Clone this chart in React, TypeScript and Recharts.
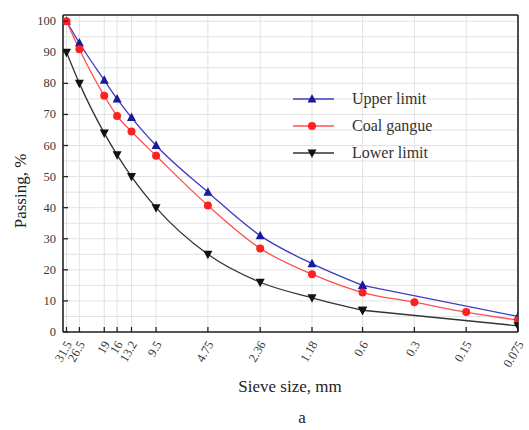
import React from 'react';
import { LineChart, Line, XAxis, YAxis, CartesianGrid, ReferenceLine } from 'recharts';

const sieveSizes = [31.5, 26.5, 19, 16, 13.2, 9.5, 4.75, 2.36, 1.18, 0.6, 0.3, 0.15, 0.075];
const sieveLabels = ['31.5', '26.5', '19', '16', '13.2', '9.5', '4.75', '2.36', '1.18', '0.6', '0.3', '0.15', '0.075'];
const upperLimit: (number | null)[] = [100, 93, 81, 75, 69, 60, 45, 31, 22, 15, null, null, 5];
const coalGangue: (number | null)[] = [100, 91, 76, 69.5, 64.5, 56.7, 40.7, 26.9, 18.6, 12.7, 9.6, 6.4, 3.8];
const lowerLimit: (number | null)[] = [90, 80, 64, 57, 50, 40, 25, 16, 11, 7, null, null, 2];
const yTicks = [0, 10, 20, 30, 40, 50, 60, 70, 80, 90, 100];
const yGrid = [0, 5, 10, 15, 20, 25, 30, 35, 40, 45, 50, 55, 60, 65, 70, 75, 80, 85, 90, 95, 100];

const toSeries = (vals: (number | null)[]) =>
  sieveSizes
    .map((s, i) => ({ size: s, v: vals[i] }))
    .filter((d) => d.v != null);

// split a series into its smooth head (up to 0.6 mm) and the straight tail after it
const headOf = (vals: (number | null)[]) => toSeries(vals).filter((d) => d.size >= 0.6);
const tailOf = (vals: (number | null)[]) => toSeries(vals).filter((d) => d.size <= 0.6);

const FONT = '"Liberation Serif", "DejaVu Serif", serif';

const UpTri = (p: any) => {
  const { cx, cy, fill } = p;
  if (cx == null || cy == null) return <g key={p.index} />;
  return <path key={p.index} d={`M${cx},${cy - 5} L${cx + 4.5},${cy + 3.5} L${cx - 4.5},${cy + 3.5} Z`} fill={fill} />;
};
const DownTri = (p: any) => {
  const { cx, cy, fill } = p;
  if (cx == null || cy == null) return <g key={p.index} />;
  return <path key={p.index} d={`M${cx},${cy + 5} L${cx + 4.5},${cy - 3.5} L${cx - 4.5},${cy - 3.5} Z`} fill={fill} />;
};
const Circ = (p: any) => {
  const { cx, cy, fill } = p;
  if (cx == null || cy == null) return <g key={p.index} />;
  return <circle key={p.index} cx={cx} cy={cy} r={4} fill={fill} />;
};

const series = [
  { key: 'upper', name: 'Upper limit', line: '#3c3cc4', mark: '#1a1a9c', Shape: UpTri, vals: upperLimit, split: true },
  { key: 'coal', name: 'Coal gangue', line: '#ff5050', mark: '#ff2020', Shape: Circ, vals: coalGangue, split: false },
  { key: 'lower', name: 'Lower limit', line: '#333333', mark: '#111111', Shape: DownTri, vals: lowerLimit, split: true },
];

const XTick = (p: any) => {
  const { x, y, payload } = p;
  const idx = sieveSizes.indexOf(payload.value);
  const lab = idx >= 0 ? sieveLabels[idx] : String(payload.value);
  return (
    <g>
      <line x1={x} y1={y} x2={x} y2={y - 5} stroke="#222" strokeWidth={1.3} />
      <text x={x + 6} y={y + 12} transform={`rotate(-60 ${x + 6} ${y + 12})`} textAnchor="end" fontFamily={FONT} fontSize={12.5} fill="#3a3a3a">
        {lab}
      </text>
    </g>
  );
};

const YTick = (p: any) => {
  const { x, y, payload } = p;
  return (
    <g>
      <line x1={x} y1={y} x2={x + 5} y2={y} stroke="#222" strokeWidth={1.3} />
      <text x={x - 7} y={y + 4} textAnchor="end" fontFamily={FONT} fontSize={12.5} fill="#3a3a3a">
        {payload.value}
      </text>
    </g>
  );
};

const LegendBox = () => (
  <svg width={170} height={80} style={{ position: 'absolute', left: 290, top: 86 }}>
    {series.map((s, i) => {
      const cy = 13 + i * 27;
      const S = s.Shape;
      return (
        <g key={s.key}>
          <line x1={3} y1={cy} x2={44} y2={cy} stroke={s.line} strokeWidth={1.3} />
          <S cx={22} cy={cy} fill={s.mark} index={i} />
          <text x={62} y={cy + 5} fontFamily={FONT} fontSize={16} fill="#333">{s.name}</text>
        </g>
      );
    })}
  </svg>
);

export default function App() {
  const lines: React.ReactNode[] = [];
  series.forEach((s) => {
    const parts = s.split
      ? [
          { id: 'head', data: headOf(s.vals), type: 'monotone' as const },
          { id: 'tail', data: tailOf(s.vals), type: 'linear' as const },
        ]
      : [{ id: 'all', data: toSeries(s.vals), type: 'monotone' as const }];
    parts.forEach((part) => {
      lines.push(
        <Line
          key={s.key + part.id}
          data={part.data}
          dataKey="v"
          name={s.name}
          type={part.type}
          stroke={s.line}
          strokeWidth={1.3}
          dot={(p: any) => <s.Shape {...p} fill={s.mark} />}
          activeDot={false}
          isAnimationActive={false}
        />
      );
    });
  });

  return (
    <div style={{ position: 'absolute', left: 0, top: 0, width: 529, height: 430, background: '#fff' }}>
      <LineChart width={529} height={430} margin={{ top: 15, right: 11, bottom: 0, left: 0 }}>
        <CartesianGrid stroke="#e2e2e2" strokeWidth={1} horizontalValues={yGrid} verticalValues={sieveSizes} />
        <XAxis
          dataKey="size"
          type="number"
          scale="log"
          domain={[0.075, 33]}
          reversed
          ticks={sieveSizes}
          interval={0}
          tick={<XTick />}
          tickLine={false}
          tickSize={0}
          tickMargin={0}
          height={98}
          axisLine={{ stroke: '#222', strokeWidth: 1.6 }}
          allowDataOverflow
          label={{
            content: () => (
              <text x={290} y={392} textAnchor="middle" fontFamily={FONT} fontSize={17} fill="#222">Sieve size, mm</text>
            ),
          }}
        />
        <YAxis
          type="number"
          domain={[0, 102]}
          ticks={yTicks}
          interval={0}
          tick={<YTick />}
          tickLine={false}
          tickSize={0}
          tickMargin={0}
          width={63}
          axisLine={{ stroke: '#222', strokeWidth: 1.6 }}
          label={{
            content: () => (
              <text x={26} y={191} transform="rotate(-90 26 191)" textAnchor="middle" fontFamily={FONT} fontSize={17} fill="#222">Passing, %</text>
            ),
          }}
        />
        <ReferenceLine y={102} stroke="#222" strokeWidth={1.6} />
        <ReferenceLine x={0.075} stroke="#222" strokeWidth={1.6} />
        {lines}
      </LineChart>
      <LegendBox />
      <div style={{ position: 'absolute', left: 0, top: 408, width: 604, textAlign: 'center', fontFamily: FONT, fontSize: 17, color: '#222' }}>a</div>
    </div>
  );
}
